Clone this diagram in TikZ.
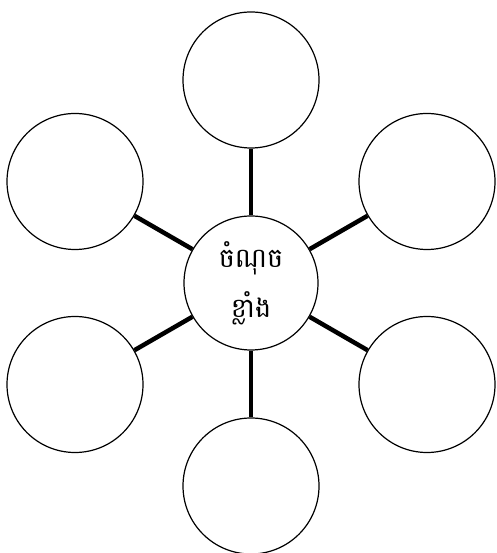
\documentclass[tikz,border=0pt]{standalone}
\usepackage{fontspec}
\newfontfamily\khmerfont[Script=Khmer]{Battambang}
\usetikzlibrary{positioning}

\begin{document}
\begin{tikzpicture}[x=1pt,y=1pt,
    leaf/.style={draw, circle, line width=1.2pt, minimum size=136pt, inner sep=0pt},
    core/.style={draw, circle, line width=1.2pt, minimum size=134pt, inner sep=0pt, align=center, font=\khmerfont\fontsize{27}{50}\selectfont},
    spoke/.style={line width=4.5pt}]
    \useasboundingbox (0,0) rectangle (496,553);
    \node[core] (center) at (251,270) {ចំណុច\\ខ្លាំង};
    \node[leaf] (top) at (251,473) {};
    \node[leaf] (bottom) at (251,67) {};
    \node[leaf] (lefttop) at (75,371.5) {};
    \node[leaf] (leftbottom) at (75,168.5) {};
    \node[leaf] (righttop) at (427,371.5) {};
    \node[leaf] (rightbottom) at (427,168.5) {};
    \draw[spoke] (center) -- (top);
    \draw[spoke] (center) -- (bottom);
    \draw[spoke] (center) -- (lefttop);
    \draw[spoke] (center) -- (leftbottom);
    \draw[spoke] (center) -- (righttop);
    \draw[spoke] (center) -- (rightbottom);
  \end{tikzpicture}
\end{document}
